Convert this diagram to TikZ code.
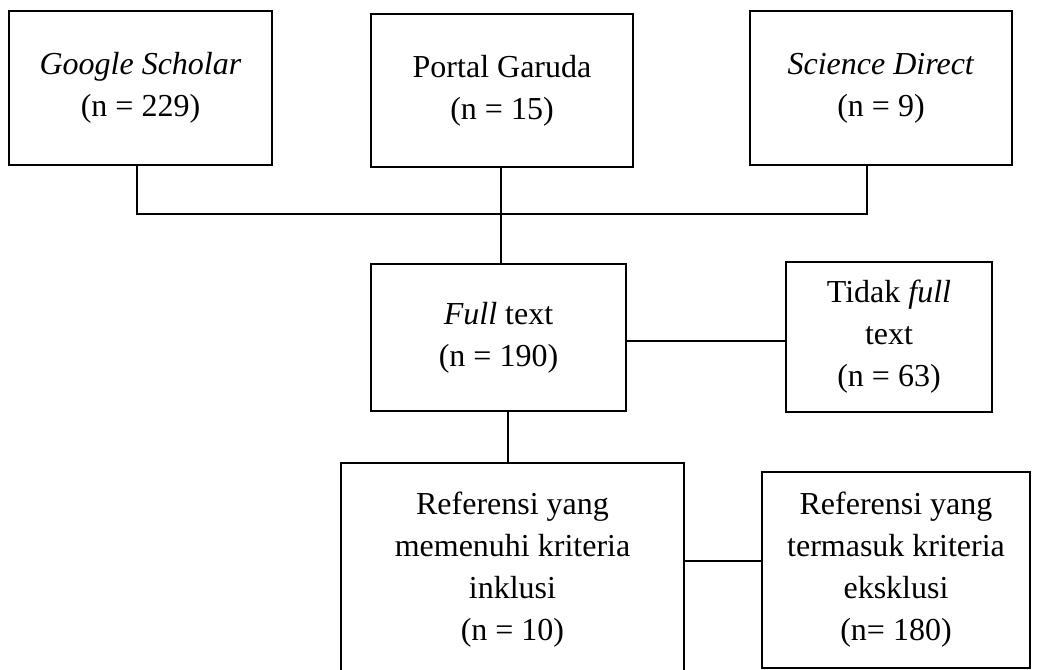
\documentclass[tikz,border=0pt]{standalone}
\usepackage{fontspec}
\setmainfont{Liberation Serif}
\begin{document}
\begin{tikzpicture}[x=0.75pt,y=-0.75pt,
  box/.style={draw, line width=1.5pt, align=center, inner sep=0pt,
    font=\fontsize{24}{31.5}\selectfont},
  sz/.style 2 args={minimum width=#1*0.75pt, minimum height=#2*0.75pt},
  conn/.style={line width=1.1pt}]
\useasboundingbox (0,0) rectangle (1039,669);
\node[box, sz={263}{154}] (gs) at (140.5,88) {\textit{Google Scholar}\\(n = 229)};
\node[box, sz={262}{153}] (pg) at (502,90.5) {Portal Garuda\\(n = 15)};
\node[box, sz={262}{154}] (sd) at (881,88) {\textit{Science Direct}\\(n = 9)};
\node[box, sz={255}{147}] (ft) at (498.5,337.5) {\textit{Full} text\\(n = 190)};
\node[box, sz={206}{150}] (td) at (889,337) {Tidak \textit{full}\\text\\(n = 63)};
\node[box, sz={343}{214}] (rl) at (512.5,570) {Referensi yang\\memenuhi kriteria\\inklusi\\(n = 10)};
\node[box, sz={268}{196}] (rr) at (896,570) {Referensi yang\\termasuk kriteria\\eksklusi\\(n= 180)};
\coordinate (h1) at (137,214);
\coordinate (h2) at (867,214);
\coordinate (j) at (501,214);
\coordinate (c2) at (700,341);
\coordinate (c3) at (508,440);
\coordinate (c4) at (720,561);
\draw[conn] (gs.south -| h1) -- (h1) -- (h2) -- (sd.south -| h2);
\draw[conn] (pg.south -| j) -- (ft.north -| j);
\draw[conn] (ft.east |- c2) -- (td.west |- c2);
\draw[conn] (ft.south -| c3) -- (rl.north -| c3);
\draw[conn] (rl.east |- c4) -- (rr.west |- c4);
\end{tikzpicture}
\end{document}
